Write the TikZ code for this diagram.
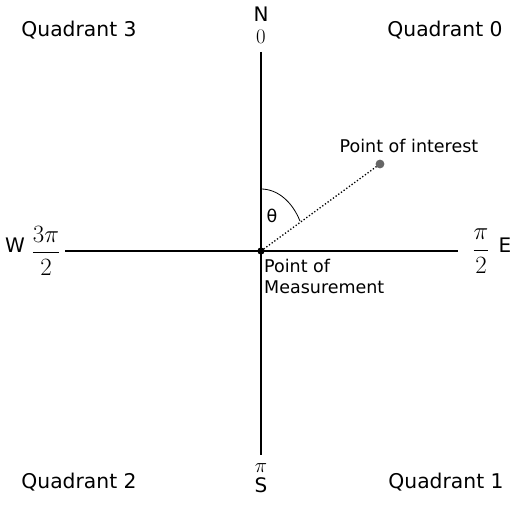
\documentclass[tikz,border=0pt]{standalone}
\usepackage{fontspec}
\setmainfont{DejaVu Sans}
\begin{document}
\begin{tikzpicture}[x=1pt,y=-1pt,
  quad/.style={font=\fontsize{20.3}{24}\selectfont, inner sep=0pt},
  compass/.style={font=\fontsize{20}{24}\selectfont, inner sep=0pt},
  mathlbl/.style={font=\fontsize{22}{26}\selectfont, inner sep=0pt},
  fraclbl/.style={font=\fontsize{23.5}{28}\selectfont, inner sep=0pt},
  lbl/.style={font=\fontsize{17.5}{21}\selectfont, inner sep=0pt},
  axis/.style={line width=1.7pt},
  ]
\useasboundingbox (0,0) rectangle (511,510);
% center and point
\coordinate (C) at (261,251);
\coordinate (P) at (380,164);
% axes endpoints
\coordinate (top) at (261,52);
\coordinate (bot) at (261,455);
\coordinate (left) at (65,251);
\coordinate (right) at (458,251);
\draw[axis] (top) -- (bot);
\draw[axis] (left) -- (right);
% dotted line
\draw[line width=1.3pt, dotted] (C) -- (P);
% angle arc
\draw[line width=0.8pt] (261,189) arc[start angle=90, end angle=29, x radius=44.5pt, y radius=62pt];
% dots
\fill[black] (C) circle (3.6);
\fill[black!60] (P) circle (4.4);
% labels
\node[quad] (q3) at (79,30) {Quadrant 3};
\node[quad] (q0) at (445,30) {Quadrant 0};
\node[quad] (q2) at (79,482) {Quadrant 2};
\node[quad] (q1) at (446,482) {Quadrant 1};
\node[compass] (N) at (261,14) {N};
\node[mathlbl] (n0) at (261,37) {$0$};
\node[mathlbl] (spi) at (261,468) {$\pi$};
\node[compass] (S) at (261,485) {S};
\node[compass] (W) at (15,245) {W};
\node[fraclbl] (w32) at (46,251) {$\displaystyle\frac{3\pi}{2}$};
\node[fraclbl] (e2) at (481,251) {$\displaystyle\frac{\pi}{2}$};
\node[compass] (E) at (505,245) {E};
\node[lbl] (theta) at (272,216) {θ};
\node[lbl] (poi) at (409,146) {Point of interest};
\node[lbl, anchor=north west, align=left, font=\fontsize{17.5}{21}\selectfont] (pom) at (264,259) {Point of\\Measurement};
\end{tikzpicture}
\end{document}
